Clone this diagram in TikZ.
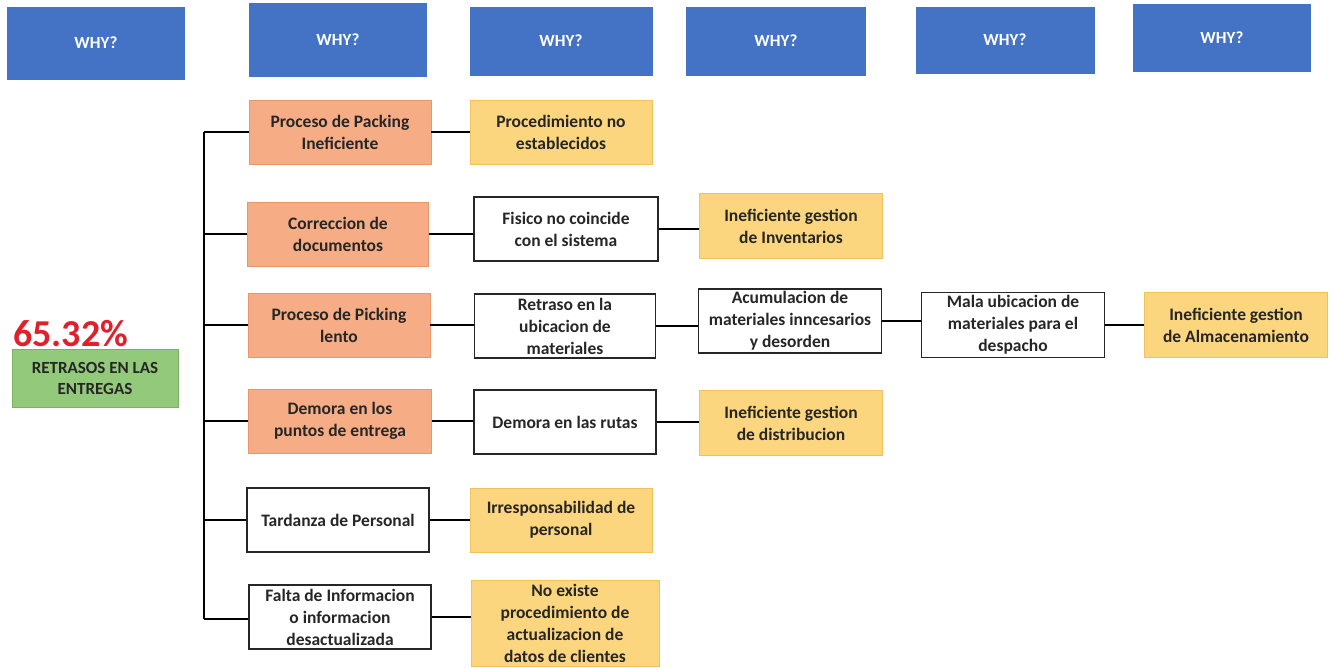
\documentclass[tikz,border=0pt]{standalone}
\usepackage{fontspec}
\setmainfont{Carlito}
\definecolor{whyblue}{HTML}{4472C4}
\definecolor{salmon}{HTML}{F6AD86}
\definecolor{salmonedge}{HTML}{E8966C}
\definecolor{gold}{HTML}{FCD67E}
\definecolor{goldedge}{HTML}{F2C25A}
\definecolor{leaf}{HTML}{93C97A}
\definecolor{leafedge}{HTML}{7BB162}
\definecolor{ink}{HTML}{262626}
\definecolor{alert}{HTML}{E0202A}
\tikzset{
  whybox/.style={fill=whyblue, draw=whyblue, text=white, minimum width=177pt, minimum height=70pt,
    font=\fontsize{17}{20}\selectfont\bfseries},
  base/.style={minimum width=182pt, minimum height=64pt, align=center, inner sep=1pt,
    text=ink, font=\fontsize{17.5}{22}\selectfont\bfseries},
  causebox/.style={base, fill=salmon, draw=salmonedge, line width=0.8pt},
  plainbox/.style={base, fill=white, draw=ink, line width=1.4pt},
  rootbox/.style={base, fill=gold, draw=goldedge, line width=0.8pt},
  link/.style={draw=black, line width=2pt}
}
\begin{document}
\begin{tikzpicture}[x=1pt, y=-1pt]
\useasboundingbox (0,0) rectangle (1336,667);

% header row
\node[whybox, minimum height=72pt] (h1) at (96,43) {WHY?};
\node[whybox, minimum height=73pt] (h2) at (338,40) {WHY?};
\node[whybox, minimum width=182pt, minimum height=68pt] (h3) at (561,41) {WHY?};
\node[whybox, minimum width=179pt, minimum height=68pt] (h4) at (776,41) {WHY?};
\node[whybox, minimum width=178pt, minimum height=66pt] (h5) at (1005,40) {WHY?};
\node[whybox, minimum height=67pt] (h6) at (1222,38) {WHY?};

% problem
\node[text=alert, font=\fontsize{38}{40}\selectfont\bfseries, anchor=west, inner sep=0pt] (pct) at (13,334) {65.32\%};
\node[base, fill=leaf, draw=leafedge, line width=0.8pt, minimum width=166pt, minimum height=58pt,
      font=\fontsize{17}{21}\selectfont\bfseries] (prob) at (95,378) {RETRASOS EN LAS\\ENTREGAS};

% first-level causes
\node[causebox] (c1) at (340,132) {Proceso de Packing\\Ineficiente};
\node[causebox, minimum width=181pt] (c2) at (338,234) {Correccion de\\documentos};
\node[causebox] (c3) at (339,325) {Proceso de Picking\\lento};
\node[causebox, minimum width=183pt] (c4) at (340,421) {Demora en los\\puntos de entrega};
\node[plainbox] (c5) at (338,520) {Tardanza de Personal};
\node[plainbox] (c6) at (340,617) {Falta de Informacion\\o informacion\\desactualizada};

% second level
\node[rootbox] (d1) at (561,132) {Procedimiento no\\establecidos};
\node[plainbox, minimum width=184pt] (d2) at (566,229) {Fisico no coincide\\con el sistema};
\node[plainbox, minimum width=181pt] (d3) at (565,326) {Retraso en la\\ubicacion de\\materiales};
\node[plainbox] (d4) at (565,422) {Demora en las rutas};
\node[rootbox] (d5) at (561,520) {Irresponsabilidad de\\personal};
\node[rootbox, minimum width=188pt, minimum height=86pt] (d6) at (565,623) {No existe\\procedimiento de\\actualizacion de\\datos de clientes};

% third level
\node[rootbox, minimum width=183pt, minimum height=65pt] (e2) at (791,226) {Ineficiente gestion\\de Inventarios};
\node[plainbox, minimum width=183pt] (e3) at (790,321) {Acumulacion de\\materiales inncesarios\\y desorden};
\node[rootbox, minimum width=183pt, minimum height=65pt] (e4) at (791,423) {Ineficiente gestion\\de distribucion};

% fourth and fifth level
\node[plainbox, minimum width=183pt, minimum height=65pt] (f3) at (1013,325) {Mala ubicacion de\\materiales para el\\despacho};
\node[rootbox, minimum width=183pt, minimum height=65pt] (g3) at (1236,325) {Ineficiente gestion\\de Almacenamiento};

% spine and branches
\coordinate (s1) at (204,132);
\coordinate (s6) at (204,619);
\draw[link] (s1) -- (s6);
\draw[link] (s1) -- (c1.west);
\draw[link] (c2.west -| s1) -- (c2.west);
\draw[link] (c3.west -| s1) -- (c3.west);
\draw[link] (c4.west -| s1) -- (c4.west);
\draw[link] (c5.west -| s1) -- (c5.west);
\draw[link] (s6) -- (s6 -| c6.west);

% cause chains
\draw[link] (c1.east) -- (c1.east -| d1.west);
\draw[link] (c2.east) -- (c2.east -| d2.west);
\draw[link] (d2.east) -- (d2.east -| e2.west);
\draw[link] (c3.east) -- (c3.east -| d3.west);
\draw[link] (d3.east) -- (d3.east -| e3.west);
\draw[link] (e3.east) -- (e3.east -| f3.west);
\draw[link] (f3.east) -- (f3.east -| g3.west);
\draw[link] (c4.east) -- (c4.east -| d4.west);
\draw[link] (d4.east) -- (d4.east -| e4.west);
\draw[link] (c5.east) -- (c5.east -| d5.west);
\draw[link] (c6.east) -- (c6.east -| d6.west);
\end{tikzpicture}
\end{document}
